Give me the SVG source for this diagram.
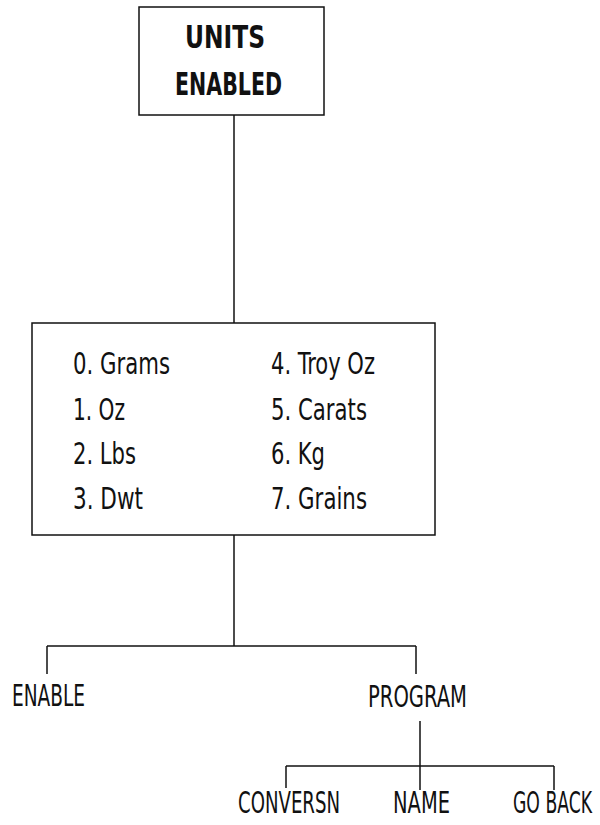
<svg xmlns="http://www.w3.org/2000/svg" width="600" height="825" viewBox="0 0 600 825">
<style>
.box{fill:#fff;stroke:#111;stroke-width:1.5}
.ln{stroke:#111;stroke-width:1.5;fill:none}
text{font-family:"Liberation Sans Narrow","DejaVu Sans Condensed","Liberation Sans",sans-serif;font-stretch:condensed;fill:#111;font-size:31px}
.b{font-weight:bold;font-size:32px}
.s{font-size:29px}
</style>
<rect width="600" height="825" fill="#fff"/>
<g id="connectors">
<line class="ln" x1="234" y1="115" x2="234" y2="323"/>
<line class="ln" x1="234" y1="535" x2="234" y2="646"/>
<line class="ln" x1="47" y1="646" x2="416" y2="646"/>
<line class="ln" x1="47" y1="646" x2="47" y2="674"/>
<line class="ln" x1="416" y1="646" x2="416" y2="674"/>
<line class="ln" x1="420" y1="721" x2="420" y2="790"/>
<line class="ln" x1="286" y1="766" x2="554" y2="766"/>
<line class="ln" x1="286" y1="766" x2="286" y2="788"/>
<line class="ln" x1="554" y1="766" x2="554" y2="790"/>
</g>
<g id="units-enabled">
<rect class="box" x="139" y="7" width="185" height="108"/>
<text class="b" x="185" y="48" textLength="80" lengthAdjust="spacingAndGlyphs">UNITS</text>
<text class="b" x="175" y="95" textLength="107" lengthAdjust="spacingAndGlyphs">ENABLED</text>
</g>
<g id="units-list">
<rect class="box" x="32" y="323" width="403" height="212"/>
<text x="73" y="374" textLength="97" lengthAdjust="spacingAndGlyphs">0. Grams</text>
<text x="73" y="420" textLength="52" lengthAdjust="spacingAndGlyphs">1. Oz</text>
<text x="73" y="464" textLength="63" lengthAdjust="spacingAndGlyphs">2. Lbs</text>
<text x="73" y="509" textLength="70" lengthAdjust="spacingAndGlyphs">3. Dwt</text>
<text x="271" y="374" textLength="104" lengthAdjust="spacingAndGlyphs">4. Troy Oz</text>
<text x="271" y="420" textLength="96" lengthAdjust="spacingAndGlyphs">5. Carats</text>
<text x="271" y="464" textLength="54" lengthAdjust="spacingAndGlyphs">6. Kg</text>
<text x="271" y="509" textLength="96" lengthAdjust="spacingAndGlyphs">7. Grains</text>
</g>
<g id="enable">
<text x="12" y="706" textLength="73" lengthAdjust="spacingAndGlyphs">ENABLE</text>
</g>
<g id="program">
<text x="368" y="707" textLength="99" lengthAdjust="spacingAndGlyphs">PROGRAM</text>
</g>
<g id="conversn">
<text x="238" y="813" textLength="102" lengthAdjust="spacingAndGlyphs">CONVERSN</text>
</g>
<g id="name">
<text x="393" y="813" textLength="57" lengthAdjust="spacingAndGlyphs">NAME</text>
</g>
<g id="go-back">
<text x="592" y="813" text-anchor="end" textLength="79" lengthAdjust="spacingAndGlyphs">GO BACK</text>
</g>
</svg>
